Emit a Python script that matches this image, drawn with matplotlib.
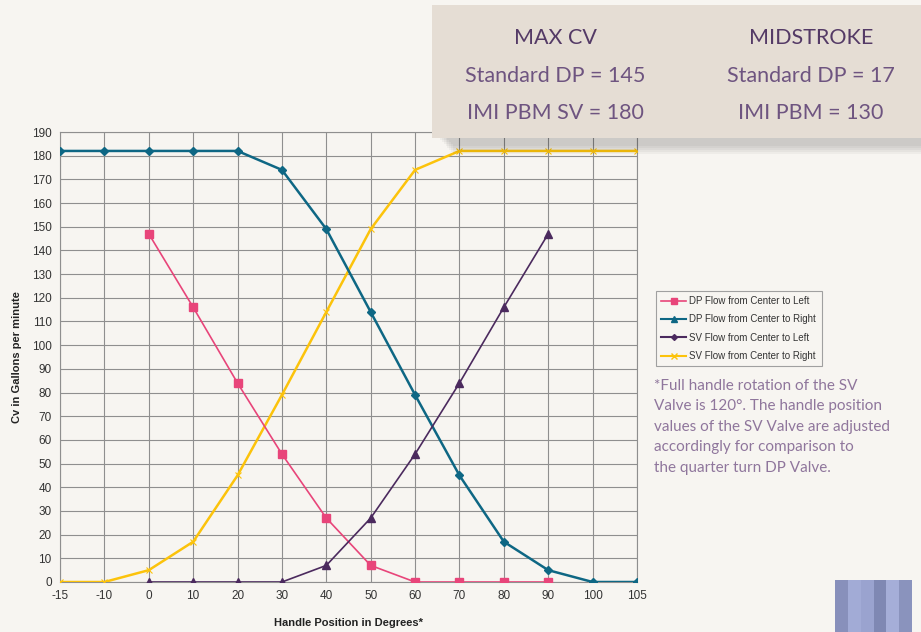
import matplotlib
matplotlib.use("Agg")
from matplotlib import pyplot as plt
from matplotlib.lines import Line2D
from matplotlib.patches import Rectangle

# categories on the x axis (evenly spaced, not numeric)
degrees = [-15, -10, 0, 10, 20, 30, 40, 50, 60, 70, 80, 90, 100, 105]

dp_left_x = [0, 10, 20, 30, 40, 50, 60, 70, 80, 90]
dp_left_y = [147, 116, 84, 54, 27, 7, 0, 0, 0, 0]

sv_teal_x = [-15, -10, 0, 10, 20, 30, 40, 50, 60, 70, 80, 90, 100, 105]
sv_teal_y = [182, 182, 182, 182, 182, 174, 149, 114, 79, 45, 17, 5, 0, 0]

dp_purple_x = [0, 10, 20, 30, 40, 50, 60, 70, 80, 90]
dp_purple_y = [0, 0, 0, 0, 7, 27, 54, 84, 116, 147]

sv_yellow_x = [-15, -10, 0, 10, 20, 30, 40, 50, 60, 70, 80, 90, 100, 105]
sv_yellow_y = [0, 0, 5, 17, 45, 79, 114, 149, 174, 182, 182, 182, 182, 182]

legend_labels = ["DP Flow from Center to Left", "DP Flow from Center to Right",
                 "SV Flow from Center to Left", "SV Flow from Center to Right"]

PINK = "#e8457a"
TEAL = "#0e6784"
PURPLE = "#4b2a5e"
YELLOW = "#fcc30b"
BG = "#f7f5f1"
TXT = "#6e5480"


def pos(xs):
    return [degrees.index(v) for v in xs]


fig = plt.figure(figsize=(9.21, 6.32), dpi=100, facecolor=BG)
ax = fig.add_axes([60 / 921, 50 / 632, 577 / 921, 450 / 632])
ax.set_facecolor(BG)

ax.plot(pos(sv_yellow_x), sv_yellow_y, color=YELLOW, lw=1.8, marker="x", ms=5, mew=0.8, zorder=3)
ax.plot(pos(sv_teal_x), sv_teal_y, color=TEAL, lw=1.8, marker="D", ms=4, zorder=4)
ax.plot(pos(dp_left_x), dp_left_y, color=PINK, lw=1.2, marker="s", ms=5.5, zorder=5)
ax.plot(pos(dp_purple_x), dp_purple_y, color=PURPLE, lw=1.2, marker="^", ms=5.5, zorder=5)

ax.set_xlim(0, len(degrees) - 1)
ax.set_ylim(0, 190)
ax.set_xticks(range(len(degrees)))
ax.set_xticklabels([str(d) for d in degrees])
ax.set_yticks(range(0, 191, 10))
ax.tick_params(length=0, labelsize=8.5, labelcolor="#333333", pad=6)
for lab in ax.get_xticklabels() + ax.get_yticklabels():
    lab.set_family("Liberation Sans")
ax.grid(color="#8f8f8f", lw=0.8)
ax.set_axisbelow(True)
for s in ax.spines.values():
    s.set_color("#8f8f8f")
    s.set_linewidth(0.8)

ax.set_xlabel("Handle Position in Degrees*", fontsize=8, fontweight="bold",
              family="Liberation Sans", color="#222222", labelpad=11)
ax.set_ylabel("Cv in Gallons per minute", fontsize=8, fontweight="bold",
              family="Liberation Sans", color="#222222", labelpad=7)

# legend (markers as they appear in the original legend)
handles = [
    Line2D([], [], color=PINK, lw=1.2, marker="s", ms=4),
    Line2D([], [], color=TEAL, lw=1.5, marker="^", ms=4),
    Line2D([], [], color=PURPLE, lw=1.5, marker="D", ms=3),
    Line2D([], [], color=YELLOW, lw=1.5, marker="x", ms=4),
]
leg = fig.legend(handles, legend_labels, loc="upper left",
                 bbox_to_anchor=(651 / 921, 1 - 286 / 632),
                 prop={"family": "Liberation Sans", "size": 7},
                 frameon=True, fancybox=False, edgecolor="#a0a0a0",
                 facecolor=BG, handlelength=2.6, handletextpad=0.3,
                 labelspacing=0.85, borderpad=0.55, framealpha=1)
leg.get_frame().set_linewidth(0.8)
for t in leg.get_texts():
    t.set_color("#333333")

# footnote
note = ("*Full handle rotation of the SV\nValve is 120\u00b0. The handle position\n"
        "values of the SV Valve are adjusted\naccordingly for comparison to\n"
        "the quarter turn DP Valve.")
fig.text(654 / 921, 1 - 379 / 632, note, ha="left", va="top", fontsize=11,
         family="Lato", color="#8f769c", linespacing=1.58)

# shadow + info box at top right
for i in range(8):
    fig.patches.append(Rectangle((440 / 921 + i * 0.002, (632 - 138 - 2 - i * 2) / 632),
                                 1, 10 / 632, transform=fig.transFigure,
                                 facecolor="#000000", alpha=0.035, lw=0, zorder=9))
fig.patches.append(Rectangle((432 / 921, 1 - 138 / 632), 1, 133 / 632,
                             transform=fig.transFigure, facecolor="#e5ddd4",
                             lw=0, zorder=10))
box_cols = [
    (555, ["MAX CV", "Standard DP = 145", "IMI PBM SV = 180"]),
    (811, ["MIDSTROKE", "Standard DP = 17", "IMI PBM = 130"]),
]
for cx, lines in box_cols:
    for j, (txt, yy) in enumerate(zip(lines, [38, 76, 113])):
        fig.text(cx / 921, 1 - yy / 632, txt, ha="center", va="center",
                 fontsize=15.5, family="Lato",
                 color="#543a66" if j == 0 else TXT, zorder=11)

# decorative stripes bottom right
stripes = ["#8890bb", "#a2abd6", "#9aa3cf", "#7f88b3", "#a5aed8", "#8a93bd"]
w = 77 / len(stripes)
for k, c in enumerate(stripes):
    fig.patches.append(Rectangle(((835 + k * w) / 921, 0), w / 921, 52 / 632,
                                 transform=fig.transFigure, facecolor=c, lw=0, zorder=10))

fig.savefig("out.png", dpi=100, facecolor=BG)
